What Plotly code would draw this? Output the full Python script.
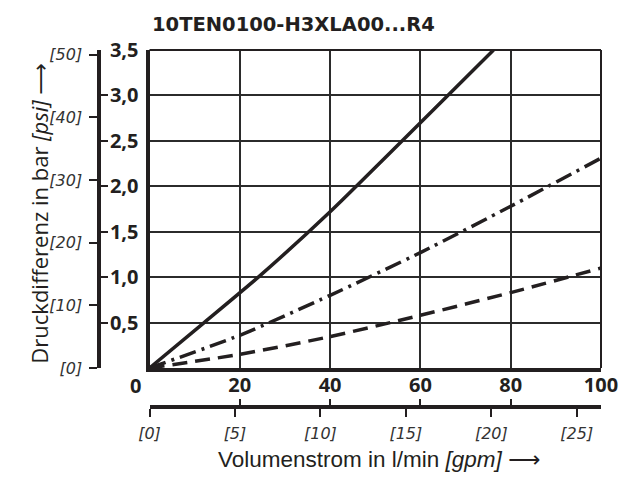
import plotly.graph_objects as go

# ---------------- data ----------------
flow_solid = [0, 12.1, 24.1, 40, 60, 76.2]
dp_solid = [0, 0.5, 1.0, 1.72, 2.70, 3.5]

flow_dashdot = [0, 20, 40, 60, 80, 100]
dp_dashdot = [0, 0.36, 0.80, 1.27, 1.78, 2.31]

flow_dashed = [0, 20, 40, 60, 80, 100]
dp_dashed = [0, 0.15, 0.345, 0.58, 0.83, 1.10]

x_ticks = [20, 40, 60, 80, 100]
x_ticklabels = ["20", "40", "60", "80", "100"]
y_ticks = [0.5, 1.0, 1.5, 2.0, 2.5, 3.0, 3.5]
y_ticklabels = ["0,5", "1,0", "1,5", "2,0", "2,5", "3,0", "3,5"]
gpm_ticks = [0, 5, 10, 15, 20, 25]
gpm_ticklabels = ["[0]", "[5]", "[10]", "[15]", "[20]", "[25]"]
psi_ticks = [0, 10, 20, 30, 40, 50]
psi_ticklabels = ["[0]", "[10]", "[20]", "[30]", "[40]", "[50]"]

title_text = "10TEN0100-H3XLA00...R4"
ARROW = '<span style="font-family:DejaVu Sans">⟶</span>'
x_title = "Volumenstrom in l/min <i>[gpm]</i> " + ARROW
y_title = "Druckdifferenz in bar <i>[psi]</i> " + ARROW

LPM_PER_GPM = 3.78541
PSI_PER_BAR = 14.5038
X_MAX = 100
Y_MAX = 3.5

# ---------------- geometry ----------------
W, H = 630, 486
ML, MR, MT, MB = 60, 20, 50, 60
PW = W - ML - MR
PH = H - MT - MB
x_dom0 = (151 - ML) / PW
y_dom0 = (H - MB - 368) / PH
gpm_pos = (H - MB - 407) / PH
psi_pos = (100 - ML) / PW

INK = "#231f20"
GRID = "#2b2b2b"
ITAL_COLOR = "#333333"


def bold_font():
    return dict(family="Open Sans", size=20, color=INK)


def ital_font():
    return dict(family="DejaVu Sans", size=16, color=ITAL_COLOR)


fig = go.Figure()
fig.add_trace(go.Scatter(x=flow_solid, y=dp_solid, mode="lines",
                         line=dict(color=INK, width=3.5, shape="spline", smoothing=0.6),
                         hoverinfo="skip", showlegend=False))
fig.add_trace(go.Scatter(x=flow_dashdot, y=dp_dashdot, mode="lines",
                         line=dict(color=INK, width=3.5, dash="17px,6px,3px,6px",
                                   shape="spline", smoothing=0.6),
                         hoverinfo="skip", showlegend=False))
fig.add_trace(go.Scatter(x=flow_dashed, y=dp_dashed, mode="lines",
                         line=dict(color=INK, width=3.5, dash="15px,8px",
                                   shape="spline", smoothing=0.6),
                         hoverinfo="skip", showlegend=False))

# helper (invisible) traces to register the secondary axes
fig.add_trace(go.Scatter(x=[v / LPM_PER_GPM for v in flow_dashed], y=dp_dashed, xaxis="x2", yaxis="y",
                         mode="lines", opacity=0, hoverinfo="skip", showlegend=False))
fig.add_trace(go.Scatter(x=flow_dashed, y=dp_dashed, xaxis="x3", yaxis="y",
                         mode="lines", opacity=0, hoverinfo="skip", showlegend=False))
fig.add_trace(go.Scatter(x=flow_dashed, y=[v * PSI_PER_BAR for v in dp_dashed], xaxis="x", yaxis="y2",
                         mode="lines", opacity=0, hoverinfo="skip", showlegend=False))
fig.add_trace(go.Scatter(x=flow_dashed, y=dp_dashed, xaxis="x", yaxis="y3",
                         mode="lines", opacity=0, hoverinfo="skip", showlegend=False))

fig.update_layout(
    width=W, height=H,
    margin=dict(l=ML, r=MR, t=MT, b=MB),
    paper_bgcolor="white", plot_bgcolor="white",
    showlegend=False,
    title=dict(text="<b>" + title_text + "</b>", x=152 / W, xanchor="left",
               y=1 - 24 / H, yanchor="middle",
               font=dict(family="DejaVu Sans", size=19.5, color=INK)),
    xaxis=dict(domain=[x_dom0, 1], range=[0, X_MAX], anchor="y",
               tickvals=x_ticks, ticktext=["<b>" + t + "</b>" for t in x_ticklabels],
               tickfont=bold_font(), ticks="", ticklabelstandoff=-4,
               showgrid=True, gridcolor=GRID, gridwidth=1.5,
               showline=True, linecolor=INK, linewidth=4, zeroline=False, fixedrange=True),
    yaxis=dict(domain=[y_dom0, 1], range=[0, Y_MAX], anchor="x",
               tickvals=y_ticks, ticktext=["<b>" + t + "</b>" for t in y_ticklabels],
               tickfont=bold_font(), ticks="", ticklabelstandoff=3,
               showgrid=True, gridcolor=GRID, gridwidth=1.5,
               showline=True, linecolor=INK, linewidth=4, zeroline=False, fixedrange=True),
    xaxis2=dict(overlaying="x", anchor="free", position=gpm_pos, side="bottom",
                range=[0, X_MAX / LPM_PER_GPM],
                tickvals=gpm_ticks, ticktext=["<i>" + t + "</i>" for t in gpm_ticklabels],
                tickfont=ital_font(), ticklabelstandoff=3,
                ticks="outside", ticklen=8, tickwidth=2, tickcolor=INK,
                showgrid=False, showline=True, linecolor=INK, linewidth=4,
                zeroline=False, fixedrange=True),
    xaxis3=dict(overlaying="x", anchor="free", position=gpm_pos, side="bottom",
                range=[0, X_MAX], tickvals=[0] + x_ticks,
                ticks="inside", ticklen=8, tickwidth=2, tickcolor=INK,
                showticklabels=False, showgrid=False, showline=False,
                zeroline=False, fixedrange=True),
    yaxis2=dict(overlaying="y", anchor="free", position=psi_pos, side="left",
                range=[0, Y_MAX * PSI_PER_BAR],
                tickvals=psi_ticks, ticktext=["<i>" + t + "</i>" for t in psi_ticklabels],
                tickfont=ital_font(), ticklabelstandoff=4,
                ticks="outside", ticklen=8, tickwidth=2, tickcolor=INK,
                showgrid=False, showline=True, linecolor=INK, linewidth=4,
                zeroline=False, fixedrange=True),
    yaxis3=dict(overlaying="y", anchor="free", position=psi_pos, side="left",
                range=[0, Y_MAX], tickvals=[0] + y_ticks,
                ticks="inside", ticklen=8, tickwidth=2, tickcolor=INK,
                showticklabels=False, showgrid=False, showline=False,
                zeroline=False, fixedrange=True),
    shapes=[
        dict(type="line", xref="x domain", yref="y domain", x0=0, x1=1, y0=1, y1=1,
             line=dict(color=INK, width=2)),
        dict(type="line", xref="x domain", yref="y domain", x0=1, x1=1, y0=0, y1=1,
             line=dict(color=INK, width=2)),
    ],
    annotations=[
        dict(text="<b>0</b>", x=0, y=0, xref="x", yref="y", showarrow=False,
             xshift=-14, yshift=-17, font=bold_font()),
        dict(text=x_title, x=(384 - ML) / PW, y=(H - MB - 474) / PH, xref="paper", yref="paper",
             showarrow=False, font=dict(family="Liberation Sans", size=22.5, color=INK)),
        dict(text=y_title, x=(21 - ML) / PW, y=(H - MB - 213) / PH, xref="paper", yref="paper",
             showarrow=False, textangle=-90,
             font=dict(family="Open Sans", size=22, color=INK)),
    ],
)

fig.write_html("out.html")
